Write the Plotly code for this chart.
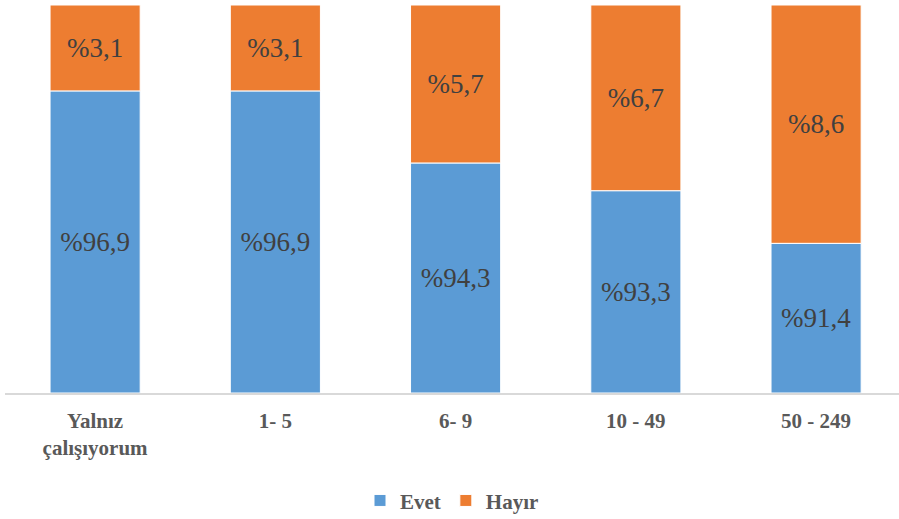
import plotly.graph_objects as go

categories = ["Yalnız<br>çalışıyorum", "1- 5", "6- 9", "10 - 49", "50 - 249"]
evet = [96.9, 96.9, 94.3, 93.3, 91.4]
hayir = [3.1, 3.1, 5.7, 6.7, 8.6]
evet_labels = ["%96,9", "%96,9", "%94,3", "%93,3", "%91,4"]
hayir_labels = ["%3,1", "%3,1", "%5,7", "%6,7", "%8,6"]
axis_min = 86

blue = "#5B9BD5"
orange = "#ED7D31"
serif = "Times New Roman, Liberation Serif, DejaVu Serif, serif"

fig = go.Figure()
fig.add_trace(go.Bar(
    name="Evet", x=categories, y=[v - axis_min for v in evet], base=axis_min,
    marker=dict(color=blue, line=dict(color="white", width=1)),
    text=evet_labels, textposition="inside", insidetextanchor="middle",
    textfont=dict(family=serif, size=27, color="#404040"), textangle=0,
    width=0.5, hoverinfo="skip",
))
fig.add_trace(go.Bar(
    name="Hayır", x=categories, y=hayir, base=evet,
    marker=dict(color=orange, line=dict(color="white", width=1)),
    text=hayir_labels, textposition="inside", insidetextanchor="middle",
    textfont=dict(family=serif, size=27, color="#404040"), textangle=0,
    width=0.5, hoverinfo="skip",
))

fig.update_layout(
    width=899, height=519,
    font=dict(family=serif),
    margin=dict(l=5, r=0, t=5, b=126, autoexpand=False),
    barmode="overlay",
    plot_bgcolor="white", paper_bgcolor="white",
    showlegend=True,
    legend=dict(orientation="h", x=0.5, xanchor="center", y=-0.225, yanchor="top",
                font=dict(family=serif, size=21, color="#595959", weight="bold"),
                itemwidth=30, traceorder="normal"),
    xaxis=dict(showline=True, linecolor="#D9D9D9", linewidth=1.5, ticks="",
               automargin=False, range=[-0.5, 4.46], ticklabelstandoff=8,
               tickfont=dict(family=serif, size=21, color="#595959", weight="bold")),
    yaxis=dict(range=[axis_min, 100], visible=False, showgrid=False, automargin=False),
)

fig.write_html("out.html", config={"displayModeBar": False},
               post_script="document.body.style.margin='0';")
